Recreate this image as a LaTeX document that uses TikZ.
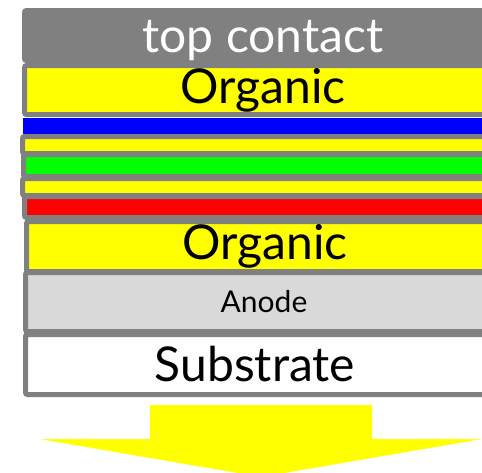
\documentclass[tikz,border=0pt]{standalone}
\usepackage{fontspec}
\setmainfont{Lato}
\usetikzlibrary{positioning}
\definecolor{framegray}{RGB}{128,128,128}
\definecolor{anodegray}{RGB}{217,217,217}
\definecolor{orgyellow}{RGB}{255,255,0}
\definecolor{emitblue}{RGB}{0,0,255}
\definecolor{emitgreen}{RGB}{0,255,0}
\definecolor{emitred}{RGB}{255,0,0}

\begin{document}
\begin{tikzpicture}[x=1pt, y=-1pt,
    layer/.style={rectangle, draw=framegray, line width=5pt, rounded corners=2pt, anchor=north west, minimum width=477pt, inner sep=0pt, outer sep=0pt},
    thinlayer/.style={layer, draw=none, rounded corners=0pt},
    bigtext/.style={font=\fontsize{48}{50}\selectfont},
    smalltext/.style={font=\fontsize{30}{32}\selectfont}
]
    \useasboundingbox (0,0) rectangle (482,472);
    \clip (0,0) rectangle (482,472);

    % Top contact
    \node[layer, fill=framegray, minimum height=50pt, bigtext, text=white] (contact) at (24.5,10.5) {\raisebox{-17pt}[0pt][0pt]{top contact}};

    % Organic (top)
    \node[layer, fill=orgyellow, minimum height=49pt, bigtext] (orgtop) at (24.5,65.5) {Organic};

    % Blue emitter
    \node[thinlayer, fill=emitblue, minimum height=16pt] (blue) at (23,118) {};

    % Interlayer / green / interlayer
    \node[layer, fill=orgyellow, minimum height=17pt] (inter1) at (22.5,136.5) {};
    \node[layer, fill=emitgreen, minimum height=22pt] (green) at (23.5,154.5) {};
    \node[layer, fill=orgyellow, minimum height=17pt] (inter2) at (22.5,178.5) {};

    % Red emitter
    \node[layer, fill=emitred, minimum height=21pt] (red) at (24.5,196.5) {};

    % Organic (bottom)
    \node[layer, fill=orgyellow, minimum height=50pt, bigtext] (orgbot) at (26.5,221.5) {Organic};

    % Anode
    \node[layer, fill=anodegray, minimum height=59pt, smalltext] (anode) at (25.5,272.5) {Anode};

    % Substrate
    \node[layer, fill=white, minimum height=60pt, bigtext] (subs) at (25.5,334.5) {\hspace*{-18pt}Substrate};

    % Light out
    \fill[orgyellow] (150,405) -- (372,405) -- (372,439) -- (482,439) -- (261,477) -- (40,439) -- (150,439) -- cycle;
\end{tikzpicture}
\end{document}
